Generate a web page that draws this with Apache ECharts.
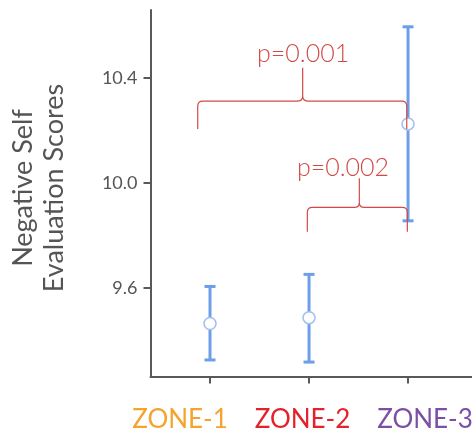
<!DOCTYPE html>
<html>
<head>
<meta charset="utf-8">
<script src="https://cdn.jsdelivr.net/npm/echarts@6/dist/echarts.min.js"></script>
<style>
  html, body { margin: 0; padding: 0; background: #fff; }
  #chart { width: 472px; height: 436px; }
</style>
</head>
<body>
<div id="chart"></div>
<script>
// Zones on the x axis (positions 1, 2, 3)
const categories = ['ZONE-1', 'ZONE-2', 'ZONE-3'];
const categoryColors = ['#F4A42C', '#E3222C', '#7B4FA5'];
// Mean score and error-bar extent per zone
const means = [9.464, 9.486, 10.224];
const lowers = [9.325, 9.317, 9.855];
const uppers = [9.605, 9.651, 10.594];
// Y tick labels
const yTicks = [9.6, 10.0, 10.4];
// Significance brackets: [xLeft, xRight, xMid, level, endLevel, tipLevel]
const bracketLabels = ['p=0.001', 'p=0.002'];
const brackets = [
  [0.876, 2.987, 1.936, 10.311, 10.205, 10.438],
  [1.983, 2.993, 2.508, 9.906, 9.813, 10.017]
];
// Centre of each p-value label: [x, y]
const bracketLabelPos = [
  [1.94, 10.492],
  [2.343, 10.057]
];

const chart = echarts.init(document.getElementById('chart'), null, { renderer: 'canvas' });

const axisGrey = '#595959';
const barBlue = '#6C9EEA';
const bracketRed = '#D24A47';

function bracketPath(api, b) {
  const [xl, xr, xm, lv, endLv, tipLv] = b;
  const L = api.coord([xl, lv]);
  const R = api.coord([xr, lv]);
  const M = api.coord([xm, lv]);
  const yEnd = api.coord([xl, endLv])[1];
  const yTip = api.coord([xm, tipLv])[1];
  const y = L[1];
  const r = 5;
  const rm = 5;
  return [
    'M', L[0], yEnd,
    'L', L[0], y + r,
    'Q', L[0], y, L[0] + r, y,
    'L', M[0] - rm, y,
    'Q', M[0], y, M[0], y - rm,
    'L', M[0], yTip,
    'M', M[0], y - rm,
    'Q', M[0], y, M[0] + rm, y,
    'L', R[0] - r, y,
    'Q', R[0], y, R[0], y + r,
    'L', R[0], yEnd
  ].join(' ');
}

const option = {
  backgroundColor: '#ffffff',
  animation: false,
  grid: { left: 150.5, right: 0, top: 10, bottom: 59.5 },
  xAxis: {
    type: 'value',
    min: 0.399,
    max: 3.646,
    splitLine: { show: false },
    axisLine: { show: true, lineStyle: { color: axisGrey, width: 2 } },
    axisTick: { show: true, length: 7, customValues: [1, 2, 3], lineStyle: { color: axisGrey, width: 2 } },
    axisLabel: { show: false }
  },
  yAxis: {
    type: 'value',
    min: 9.262,
    max: 10.658,
    splitLine: { show: false },
    axisLine: { show: true, lineStyle: { color: axisGrey, width: 2 } },
    axisTick: { show: true, length: 7, customValues: yTicks, lineStyle: { color: axisGrey, width: 2 } },
    axisLabel: {
      customValues: yTicks,
      formatter: v => Number(v).toFixed(1),
      color: '#555',
      fontFamily: 'Lato',
      fontSize: 18,
      margin: 13
    }
  },
  graphic: [
    {
      type: 'text',
      x: 39,
      y: 188,
      rotation: Math.PI / 2,
      style: {
        text: 'Negative Self\nEvaluation Scores',
        fill: '#555',
        font: '27px Lato',
        align: 'center',
        verticalAlign: 'middle',
        lineHeight: 31
      }
    }
  ].concat(categories.map((c, i) => ({
    type: 'text',
    x: 180 + i * 122.5,
    y: 420,
    style: {
      text: c,
      fill: categoryColors[i],
      font: '26px Lato',
      align: 'center',
      verticalAlign: 'middle'
    }
  }))),
  series: [
    {
      type: 'custom',
      name: 'error',
      data: categories.map((c, i) => [i + 1, lowers[i], uppers[i]]),
      renderItem: (params, api) => {
        const x = api.value(0);
        const lo = api.coord([x, api.value(1)]);
        const hi = api.coord([x, api.value(2)]);
        const half = 5.5;
        const style = { stroke: barBlue, lineWidth: 3, fill: null };
        return {
          type: 'group',
          children: [
            { type: 'line', shape: { x1: lo[0], y1: lo[1], x2: hi[0], y2: hi[1] }, style },
            { type: 'line', shape: { x1: hi[0] - half, y1: hi[1], x2: hi[0] + half, y2: hi[1] }, style },
            { type: 'line', shape: { x1: lo[0] - half, y1: lo[1], x2: lo[0] + half, y2: lo[1] }, style }
          ]
        };
      },
      z: 2
    },
    {
      type: 'scatter',
      name: 'mean',
      data: categories.map((c, i) => [i + 1, means[i]]),
      symbol: 'circle',
      symbolSize: 12,
      itemStyle: { color: '#ffffff', borderColor: '#A3C0F0', borderWidth: 1.6, opacity: 1 },
      z: 3
    },
    {
      type: 'custom',
      name: 'brackets',
      data: brackets.map((b, i) => [i]),
      renderItem: (params, api) => {
        const i = params.dataIndex;
        const b = brackets[i];
        const tp = api.coord(bracketLabelPos[i]);
        return {
          type: 'group',
          children: [
            {
              type: 'path',
              shape: { pathData: bracketPath(api, b) },
              style: { stroke: bracketRed, lineWidth: 1.2, fill: null }
            },
            {
              type: 'text',
              x: tp[0],
              y: tp[1],
              style: {
                text: bracketLabels[i],
                fill: bracketRed,
                font: '300 25px Lato',
                align: 'center',
                verticalAlign: 'middle'
              }
            }
          ]
        };
      },
      z: 4
    }
  ]
};

chart.setOption(option);
</script>
</body>
</html>
